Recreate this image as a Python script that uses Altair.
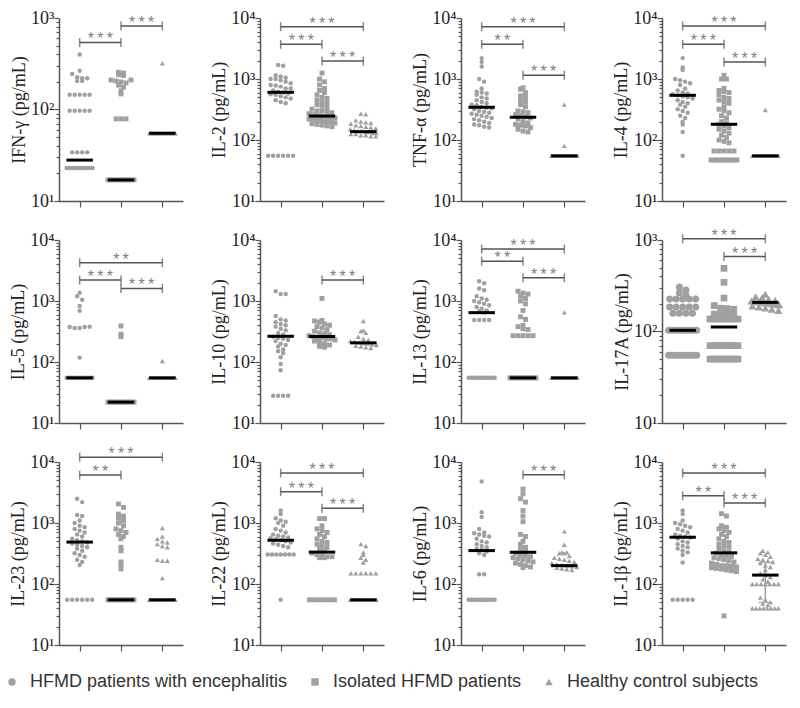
import altair as alt
import numpy as np
import pandas as pd

GROUPS = ["HFMD patients with encephalitis", "Isolated HFMD patients", "Healthy control subjects"]
SHAPES = ["circle", "square", "triangle-up"]

# ---------------- data (pg/mL) ----------------
IFNG_ENC = [400, 265, 245, 225, 220, 205, 205, 220, 145, 145, 145, 145, 145, 97, 97, 97, 97, 97, 34, 34, 34, 34] + [23] * 10
IFNG_ISO = [255, 250, 240, 235, 210, 205, 200, 195, 210, 185, 175, 160, 148, 79, 79, 79] + [17] * 10
IFNG_HC = [320] + [55] * 12
IFNG_MED = [28, 17, 55]
IFNG_SIG = [(1, 2, 540, "***"), (2, 3, 820, "***")]

IL2_ENC = [1700, 1650, 1150, 1100, 1050, 1000, 1000, 950, 900, 850, 800, 780, 750, 700, 700, 650, 620, 600, 580, 560, 550, 520, 500, 480, 450, 420, 400] + [55] * 6
IL2_ISO = [1250, 1000, 900, 800, 700, 650, 600, 550, 500, 480, 450, 420, 400, 380, 360, 340, 320, 300, 300, 290, 280, 270, 260, 250, 250, 240, 240, 230, 230, 220, 220, 210, 210, 200, 200, 195, 190, 185, 180, 175, 170, 165]
IL2_HC = [270, 265, 210, 200, 195, 190, 185, 175, 170, 165, 160, 155, 150, 145, 140, 140, 135, 135, 130, 130, 125, 125, 120, 120, 115, 115]
IL2_MED = [605, 247, 137]
IL2_SIG = [(1, 3, 7200, "***"), (1, 2, 3700, "***"), (2, 3, 1970, "***")]

TNFA_ENC = [2200, 1900, 1600, 1000, 900, 700, 620, 600, 580, 550, 500, 480, 450, 420, 400, 380, 370, 350, 340, 330, 320, 300, 290, 280, 270, 260, 250, 240, 230, 220, 210, 200, 190, 180, 175, 165, 160]
TNFA_ISO = [720, 680, 600, 530, 500, 450, 420, 380, 350, 300, 290, 280, 260, 250, 240, 230, 220, 200, 190, 180, 175, 170, 160, 150, 140, 135]
TNFA_HC = [380, 80] + [55] * 10
TNFA_MED = [344, 236, 55]
TNFA_SIG = [(1, 3, 7200, "***"), (1, 2, 3700, "**"), (2, 3, 1150, "***")]

IL4_ENC = [2200, 1550, 1400, 1000, 950, 900, 850, 800, 700, 650, 600, 580, 560, 540, 520, 500, 480, 450, 420, 400, 380, 350, 320, 300, 280, 250, 230, 200, 180, 135, 55]
IL4_ISO = [1150, 1000, 1000, 700, 650, 620, 600, 550, 500, 480, 450, 420, 400, 350, 320, 300, 280, 250, 230, 200, 190, 180, 170, 160, 150, 140, 130, 120, 110, 100, 95, 90, 66, 66, 66, 66, 66] + [47] * 10
IL4_HC = [310] + [55] * 10
IL4_MED = [540, 181, 55]
IL4_SIG = [(1, 3, 7400, "***"), (1, 2, 3700, "***"), (2, 3, 1900, "***")]

IL5_ENC = [1370, 1200, 1050, 830, 690, 375, 360, 360, 375, 380, 118] + [55] * 12
IL5_ISO = [390, 285, 260] + [22] * 12
IL5_HC = [104] + [55] * 12
IL5_MED = [55, 22, 55]
IL5_SIG = [(1, 3, 4240, "**"), (1, 2, 2200, "***"), (2, 3, 1610, "***")]

IL10_ENC = [1450, 1300, 1300, 570, 500, 480, 450, 420, 400, 380, 350, 330, 300, 280, 260, 250, 240, 230, 220, 200, 190, 180, 160, 150, 140, 120, 93, 73, 28, 28, 28, 28]
IL10_ISO = [1100, 480, 470, 450, 420, 400, 380, 360, 340, 320, 300, 290, 280, 270, 260, 250, 250, 240, 240, 230, 220, 210, 200, 190, 180, 175]
IL10_HC = [470, 330, 320, 300, 260, 240, 230, 220, 215, 210, 205, 200, 195, 190, 185, 180, 175, 170]
IL10_MED = [264, 262, 206]
IL10_SIG = [(2, 3, 2200, "***")]

IL13_ENC = [2100, 1950, 1600, 1500, 1200, 1100, 1050, 1000, 950, 900, 850, 800, 750, 700, 680, 650, 490, 490, 490, 490] + [55] * 12
IL13_ISO = [1450, 1350, 1300, 1200, 1100, 1000, 900, 700, 550, 500, 400, 380, 350, 340, 270, 270, 270, 270, 270] + [55] * 12
IL13_HC = [650] + [55] * 12
IL13_MED = [644, 55, 55]
IL13_SIG = [(1, 3, 7100, "***"), (1, 2, 4500, "**"), (2, 3, 2400, "***")]

IL17A_ENC = [306, 285, 265, 250, 226, 226, 226, 226, 226, 185, 185, 185, 185, 185, 158, 158, 158, 158] + [103] * 10 + [55] * 12
IL17A_ISO = [490, 345, 232, 192, 180, 178, 175, 155, 155, 155, 155] + [137] * 9 + [70] * 10 + [50] * 10
IL17A_HC = [255, 240, 235, 225, 220, 215, 212, 210, 208, 205, 205, 200, 198, 195, 190, 185, 180, 175, 170]
IL17A_MED = [103, 112, 208]
IL17A_SIG = [(1, 3, 1030, "***"), (2, 3, 660, "***")]

IL23_ENC = [2500, 2200, 1350, 1300, 1100, 1000, 900, 850, 800, 750, 700, 650, 600, 550, 520, 500, 480, 460, 440, 420, 400, 380, 350, 320, 300, 280, 250, 230, 205] + [55] * 6
IL23_ISO = [2050, 1800, 1400, 1300, 1200, 1100, 1000, 900, 800, 750, 700, 650, 600, 550, 400, 350, 230, 210, 177] + [55] * 12
IL23_HC = [830, 600, 550, 500, 480, 450, 420, 400, 250, 240, 240, 125] + [55] * 12
IL23_MED = [487, 55, 55]
IL23_SIG = [(1, 3, 12000, "***"), (1, 2, 6100, "**")]

IL22_ENC = [1600, 1400, 1200, 1100, 1050, 1000, 900, 800, 750, 700, 650, 620, 600, 580, 560, 540, 520, 500, 480, 460, 440, 420, 400] + [305] * 7 + [55]
IL22_ISO = [1180, 1180, 900, 800, 750, 700, 650, 600, 550, 500, 480, 450, 420, 400, 380, 350, 320, 300, 290, 280, 280, 270, 270] + [55] * 6
IL22_HC = [450, 420, 330, 300, 270, 250, 225] + [150] * 6 + [55] * 12
IL22_MED = [521, 333, 55]
IL22_SIG = [(1, 3, 6600, "***"), (1, 2, 3260, "***"), (2, 3, 1740, "***")]

IL6_ENC = [4800, 1500, 1250, 800, 700, 680, 650, 620, 600, 550, 500, 480, 450, 420, 400, 380, 360, 340, 320, 300, 145, 145] + [55] * 12
IL6_ISO = [3600, 3000, 2500, 2200, 1600, 1300, 1050, 650, 600, 500, 450, 400, 380, 340, 320, 300, 290, 280, 270, 260, 250, 240, 230, 220, 210, 200, 190, 185]
IL6_HC = [730, 440, 330, 330, 320, 320, 290, 270, 260, 250, 240, 230, 220, 210, 205, 200, 195, 190, 185, 180, 175, 170]
IL6_MED = [353, 331, 200]
IL6_SIG = [(2, 3, 6170, "***")]

IL1B_ENC = [1600, 1400, 1100, 1000, 950, 900, 850, 800, 750, 700, 650, 620, 600, 580, 550, 500, 480, 450, 420, 400, 380, 350, 330, 300, 225] + [55] * 5
IL1B_ISO = [1420, 1300, 900, 850, 800, 750, 700, 650, 600, 550, 500, 480, 450, 420, 400, 380, 350, 330, 320, 300, 290, 280, 270, 260, 250, 240, 230, 220, 210, 200, 200, 195, 190, 185, 180, 175, 170, 165, 160, 30]
IL1B_HC = [350, 330, 320, 300, 280, 260, 250, 240, 230, 220, 200, 190, 170, 150, 140, 130, 120, 110] + [100] * 7 + [60, 55, 50, 48, 45] + [40] * 8
IL1B_MED = [584, 324, 140]
IL1B_SIG = [(1, 3, 6600, "***"), (1, 2, 2800, "**"), (2, 3, 2130, "***")]
IL1B_HC_RANGE = [50, 225]

PANELS = [
    ("IFN-γ", IFNG_ENC, IFNG_ISO, IFNG_HC, IFNG_MED, IFNG_SIG, 1000, None),
    ("IL-2", IL2_ENC, IL2_ISO, IL2_HC, IL2_MED, IL2_SIG, 10000, None),
    ("TNF-α", TNFA_ENC, TNFA_ISO, TNFA_HC, TNFA_MED, TNFA_SIG, 10000, None),
    ("IL-4", IL4_ENC, IL4_ISO, IL4_HC, IL4_MED, IL4_SIG, 10000, None),
    ("IL-5", IL5_ENC, IL5_ISO, IL5_HC, IL5_MED, IL5_SIG, 10000, None),
    ("IL-10", IL10_ENC, IL10_ISO, IL10_HC, IL10_MED, IL10_SIG, 10000, None),
    ("IL-13", IL13_ENC, IL13_ISO, IL13_HC, IL13_MED, IL13_SIG, 10000, None),
    ("IL-17A", IL17A_ENC, IL17A_ISO, IL17A_HC, IL17A_MED, IL17A_SIG, 1000, None),
    ("IL-23", IL23_ENC, IL23_ISO, IL23_HC, IL23_MED, IL23_SIG, 10000, None),
    ("IL-22", IL22_ENC, IL22_ISO, IL22_HC, IL22_MED, IL22_SIG, 10000, None),
    ("IL-6", IL6_ENC, IL6_ISO, IL6_HC, IL6_MED, IL6_SIG, 10000, None),
    ("IL-1β", IL1B_ENC, IL1B_ISO, IL1B_HC, IL1B_MED, IL1B_SIG, 10000, IL1B_HC_RANGE),
]

# ---------------- styling ----------------
W, H = 124, 183
ROW_GAP, COL_GAP = 39, 77
PAD_L, PAD_T = 51, 10
TOTAL_W, TOTAL_H = 784, 692
GREY = "#a0a0a0"
AXC = "#555555"
SERIF = "Liberation Serif"
SANS = "Liberation Sans"


def swarm(vals, top, row=5.0, gap=5.0, maxw=26.0):
    """Prism-like horizontal spreading of points that fall in the same pixel row."""
    vals = np.asarray(vals, dtype=float)
    ppd = H / (np.log10(top) - 1)
    ypx = (np.log10(vals) - 1) * ppd
    bins = {}
    for i, y in enumerate(ypx):
        bins.setdefault(int(round(y / row)), []).append(i)
    off = np.zeros(len(vals))
    for idx in bins.values():
        n = len(idx)
        if n == 1:
            continue
        s = min(gap, maxw / (n - 1))
        for k, i in enumerate(idx):
            off[i] = (k - (n - 1) / 2) * s
    return off / (W / 3.0)


def make_panel(name, enc, iso, hc, med, sig, top, err):
    big = name == "IL-17A"
    sizes = [49, 45, 64] if big else [20, 24, 26]
    pts = []
    for gi, vals in enumerate([enc, iso, hc]):
        offs = swarm(vals, top, gap=6.5 if big else 5.0, maxw=28 if big else 26)
        for v, o in zip(vals, offs):
            pts.append({"x": gi + 1 + o, "v": v, "group": GROUPS[gi], "sz": sizes[gi]})
    pts = pd.DataFrame(pts)

    meds = pd.DataFrame({"x": [g - 0.32 for g in (1, 2, 3)], "x2": [g + 0.32 for g in (1, 2, 3)], "v": med})
    br = pd.DataFrame([{"x": a, "x2": b, "v": lv, "xm": (a + b) / 2.0, "lab": "\u2009".join(lab)} for a, b, lv, lab in sig])
    caps = pd.DataFrame([{"x": p, "v": lv} for a, b, lv, lab in sig for p in (a, b)])

    tick_vals = [m * 10 ** d for d in range(1, int(round(np.log10(top)))) for m in range(1, 10)] + [top]
    yscale = alt.Scale(type="log", domain=[10, top], nice=False)
    xscale = alt.Scale(domain=[0.5, 3.5], nice=False, zero=False)
    dec_test = "indexof([10,100,1000,10000], datum.value) >= 0"
    yaxis = alt.Axis(
        title=f"{name} (pg/mL)", values=tick_vals,
        labelExpr="datum.value == 10 ? '10\u00b9' : datum.value == 100 ? '10\u00b2' : datum.value == 1000 ? '10\u00b3' : datum.value == 10000 ? '10\u2074' : ''",
        tickSize={"condition": {"test": dec_test, "value": 5}, "value": 3},
        labelFont=SERIF, labelFontSize=18, labelColor="#222", labelPadding=0, labelOverlap=False, labelFlush=False,
        titleFont=SERIF, titleFontSize=18, titleFontWeight="normal", titleColor="#222", titlePadding=2,
        domainColor=AXC, tickColor=AXC, domainWidth=1.5, tickWidth=1.2, grid=False,
    )
    xaxis = alt.Axis(title=None, values=[1, 2, 3], labels=False, tickSize=6, domainColor=AXC, tickColor=AXC,
                     domainWidth=1.5, tickWidth=1.2, grid=False)
    X = lambda f: alt.X(f, scale=xscale, axis=xaxis)
    Y = lambda f: alt.Y(f, scale=yscale, axis=yaxis)

    layers = []
    if err is not None:
        ed = pd.DataFrame({"x": [3.0], "lo": [err[0]], "hi": [err[1]]})
        layers.append(alt.Chart(ed).mark_rule(color=GREY, strokeWidth=1.5).encode(x=X("x:Q"), y=Y("lo:Q"), y2="hi:Q"))
        ec = pd.DataFrame({"x": [3.0, 3.0], "v": err})
        layers.append(alt.Chart(ec).mark_tick(color=GREY, orient="horizontal", size=14, thickness=1.5).encode(x=X("x:Q"), y=Y("v:Q")))
    layers.append(
        alt.Chart(pts).mark_point(filled=True, opacity=1, color=GREY, strokeWidth=0).encode(
            x=X("x:Q"), y=Y("v:Q"),
            shape=alt.Shape("group:N", scale=alt.Scale(domain=GROUPS, range=SHAPES),
                            legend=alt.Legend(title=None, orient="none", direction="horizontal",
                                              legendX=-PAD_L - 5, legendY=3 * H + 2 * ROW_GAP + 28,
                                              labelFont=SANS, labelFontSize=18, labelColor="#333",
                                              symbolSize=55, symbolFillColor=GREY, symbolStrokeColor=GREY,
                                              symbolStrokeWidth=0, labelLimit=400, columnPadding=18,
                                              labelOffset=9, padding=0)),
            size=alt.Size("sz:Q", scale=None),
        )
    )
    layers.append(alt.Chart(meds).mark_rule(color="black", strokeWidth=3).encode(x=X("x:Q"), x2="x2:Q", y=Y("v:Q")))
    layers.append(alt.Chart(br).mark_rule(color=AXC, strokeWidth=1.5).encode(x=X("x:Q"), x2="x2:Q", y=Y("v:Q")))
    layers.append(alt.Chart(caps).mark_tick(color=AXC, orient="vertical", size=9, thickness=1.5).encode(x=X("x:Q"), y=Y("v:Q")))
    layers.append(alt.Chart(br).mark_text(font=SANS, fontSize=16, color="#808080", baseline="alphabetic", dy=2).encode(
        x=X("xm:Q"), y=Y("v:Q"), text="lab:N"))
    return alt.layer(*layers).properties(width=W, height=H)


panels = [make_panel(*p) for p in PANELS]
chart = (
    alt.concat(*panels, columns=4, spacing={"row": ROW_GAP, "column": COL_GAP}, bounds="flush")
    .resolve_scale(shape="shared")
    .properties(
        autosize=alt.AutoSizeParams(type="none"),
        padding={"left": PAD_L, "top": PAD_T, "right": TOTAL_W - PAD_L, "bottom": TOTAL_H - PAD_T},
    )
    .configure_view(stroke=None)
)
chart.save("out.html", embed_options={"renderer": "svg", "actions": False})
